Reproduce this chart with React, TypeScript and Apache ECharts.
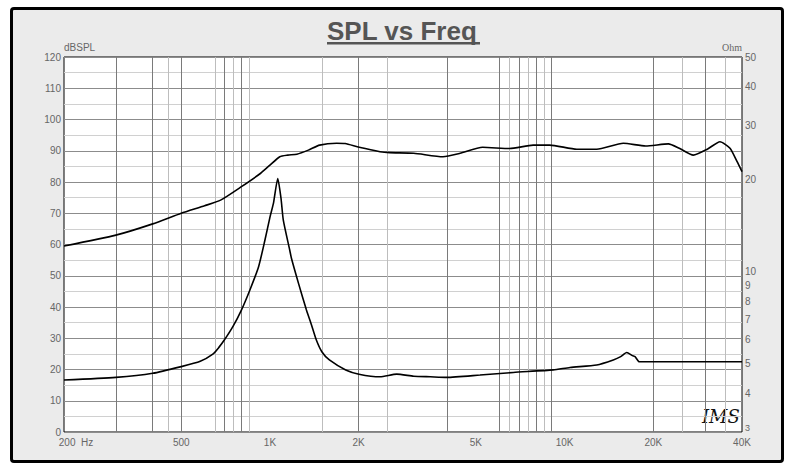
import React, { useEffect, useRef } from 'react';
import * as echarts from 'echarts';

// ---- axis ticks ----
const xTickValues = [200, 500, 1000, 2000, 5000, 10000, 20000, 40000];
const xTickLabels = ['200  Hz', '500', '1K', '2K', '5K', '10K', '20K', '40K'];
const ohmTickValues = [3, 4, 5, 6, 7, 8, 9, 10, 20, 30, 40, 50];

// vertical grid lines (Hz) as drawn in the reference
const gridDarkHz = [300, 400, 500, 700, 800, 2000, 4000, 6000, 7000, 8000, 9000, 20000, 30000];
const gridLightHz = [450, 650, 750, 850, 1500, 2500, 6500, 7500, 8500, 25000, 35000];

// ---- SPL (dB) ----
const splFreq = [200, 300, 400, 500, 600, 680, 800, 930, 1000, 1080, 1150, 1234, 1350, 1474, 1684, 1800, 2009, 2364, 2545, 3076, 3866, 4420, 5270, 6509, 7823, 8908, 11000, 12854, 15820, 18840, 22490, 24500, 27340, 30500, 33680, 36420, 38500, 40000];
const splDb = [59.5, 63.0, 66.6, 70.0, 72.4, 74.2, 78.5, 82.8, 85.4, 88.1, 88.6, 88.9, 90.2, 91.8, 92.4, 92.3, 91.1, 89.7, 89.4, 89.2, 88.1, 89.2, 91.1, 90.7, 91.8, 91.8, 90.5, 90.5, 92.4, 91.5, 92.2, 90.8, 88.6, 90.5, 92.9, 90.8, 86.5, 83.3];

// ---- Impedance (Ohm) ----
const impFreq = [200, 300, 400, 500, 580, 640, 670, 700, 750, 800, 855, 915, 960, 1001, 1028, 1063, 1090, 1110, 1167, 1184, 1250, 1330, 1380, 1437, 1500, 1591, 1808, 2005, 2364, 2693, 3076, 3500, 3980, 5163, 6698, 9155, 10434, 12854, 14628, 15500, 16246, 17000, 17340, 17932, 40000];
const impOhm = [4.43, 4.52, 4.66, 4.90, 5.10, 5.38, 5.65, 5.98, 6.64, 7.49, 8.71, 10.37, 12.57, 15.09, 16.7, 20.1, 17.36, 14.7, 11.75, 11.0, 9.15, 7.49, 6.75, 5.98, 5.48, 5.15, 4.78, 4.63, 4.54, 4.63, 4.56, 4.54, 4.52, 4.60, 4.69, 4.78, 4.87, 4.96, 5.15, 5.28, 5.45, 5.32, 5.28, 5.08, 5.08];

const FONT = "'Liberation Sans', Arial, sans-serif";

export default function App() {
  const ref = useRef<HTMLDivElement>(null);

  useEffect(() => {
    if (!ref.current) return;
    const chart = echarts.init(ref.current, undefined, { renderer: 'svg' });

    const findIdx = (v: number) => xTickValues.findIndex((t) => Math.abs(t - v) < t * 1e-4);

    const option: any = {
      animation: false,
      grid: {
        left: 64,
        top: 57,
        width: 678,
        height: 375,
        show: true,
        backgroundColor: '#ffffff',
        borderColor: '#000000',
        borderWidth: 1,
        containLabel: false,
      },
      graphic: [
        {
          type: 'text',
          left: 327,
          top: 18,
          style: {
            text: 'SPL vs Freq',
            fill: '#555555',
            font: `bold 26px ${FONT}`,
          },
        },
        {
          type: 'rect',
          shape: { x: 327, y: 42, width: 153, height: 2.5 },
          style: { fill: '#555555' },
        },
        {
          type: 'text',
          left: 702,
          top: 407,
          style: {
            text: 'IMS',
            fill: '#111111',
            font: "italic 18px 'DejaVu Serif', serif",
          },
        },
      ],
      xAxis: {
        type: 'log',
        logBase: 10,
        min: 200,
        max: 40000,
        axisLine: { show: false },
        axisTick: { show: false },
        splitLine: { show: false },
        minorSplitLine: { show: false },
        axisLabel: {
          customValues: xTickValues,
          margin: 5,
          color: '#666666',
          fontSize: 10,
          fontFamily: FONT,
          formatter: (v: number) => {
            const i = findIdx(v);
            if (i < 0) return '';
            if (i === 0) return '{first|' + xTickLabels[0] + '}';
            return xTickLabels[i];
          },
          rich: {
            first: { padding: [0, 0, 0, 24], color: '#666666', fontSize: 10, fontFamily: FONT },
          },
        },
      },
      yAxis: [
        {
          type: 'value',
          min: 0,
          max: 120,
          interval: 5,
          name: 'dBSPL',
          nameLocation: 'end',
          nameGap: 2,
          nameTextStyle: { align: 'left', verticalAlign: 'bottom', color: '#666666', fontSize: 10, fontFamily: FONT },
          axisLine: { show: false },
          axisTick: { show: false },
          axisLabel: {
            margin: 3,
            color: '#666666',
            fontSize: 10,
            fontFamily: FONT,
            formatter: (v: number) => (Math.round(v) % 10 === 0 ? String(Math.round(v)) : ''),
          },
          splitLine: { show: true, lineStyle: { color: ['#8c8c8c', '#d0d0d0'], width: 1 } },
        },
        {
          type: 'log',
          logBase: 10,
          min: 3,
          max: 50,
          position: 'right',
          name: 'Ohm',
          nameLocation: 'end',
          nameGap: 2,
          nameTextStyle: { align: 'right', verticalAlign: 'bottom', color: '#666666', fontSize: 10, fontFamily: "'Liberation Serif', serif" },
          axisLine: { show: false },
          axisTick: { show: false },
          splitLine: { show: false },
          minorSplitLine: { show: false },
          axisLabel: {
            customValues: ohmTickValues,
            margin: 3,
            color: '#666666',
            fontSize: 10,
            fontFamily: FONT,
            formatter: (v: number) => {
              const n = Math.round(v);
              return n === 3 ? '{low|3}' : String(n);
            },
            rich: {
              low: { padding: [0, 0, 9, 0], color: '#666666', fontSize: 9, fontFamily: FONT },
            },
          },
        },
      ],
      series: [
        {
          name: 'grid',
          type: 'line',
          data: [],
          silent: true,
          xAxisIndex: 0,
          yAxisIndex: 0,
          markLine: {
            silent: true,
            z: 1,
            animation: false,
            symbol: ['none', 'none'],
            label: { show: false },
            emphasis: { disabled: true },
            lineStyle: { type: 'solid', width: 1 },
            data: [
              ...gridDarkHz.map((v) => ({ xAxis: v, lineStyle: { color: '#7a7a7a', type: 'solid', width: 1 } })),
              ...gridLightHz.map((v) => ({ xAxis: v, lineStyle: { color: '#bdbdbd', type: 'solid', width: 1 } })),
            ],
          },
        },
        {
          name: 'SPL',
          type: 'line',
          xAxisIndex: 0,
          yAxisIndex: 0,
          z: 5,
          showSymbol: false,
          symbol: 'none',
          smooth: 0.2,
          lineStyle: { color: '#000000', width: 1.6 },
          data: splFreq.map((f, i) => [f, splDb[i]]),
        },
        {
          name: 'Impedance',
          type: 'line',
          xAxisIndex: 0,
          yAxisIndex: 1,
          z: 5,
          showSymbol: false,
          symbol: 'none',
          smooth: 0.2,
          lineStyle: { color: '#000000', width: 1.6 },
          data: impFreq.map((f, i) => [f, impOhm[i]]),
        },
      ],
    };

    chart.setOption(option);
    return () => {
      chart.dispose();
    };
  }, []);

  return (
    <div style={{ position: 'fixed', left: 0, top: 0, width: 785, height: 464, background: '#ffffff', overflow: 'hidden' }}>
      <div
        style={{
          position: 'absolute',
          left: 10,
          top: 7,
          width: 768,
          height: 450,
          border: '3px solid #000',
          borderRadius: 4,
          background: '#ebebeb',
        }}
      />
      <div ref={ref} style={{ position: 'absolute', left: 0, top: 0, width: 785, height: 464 }} />
    </div>
  );
}
